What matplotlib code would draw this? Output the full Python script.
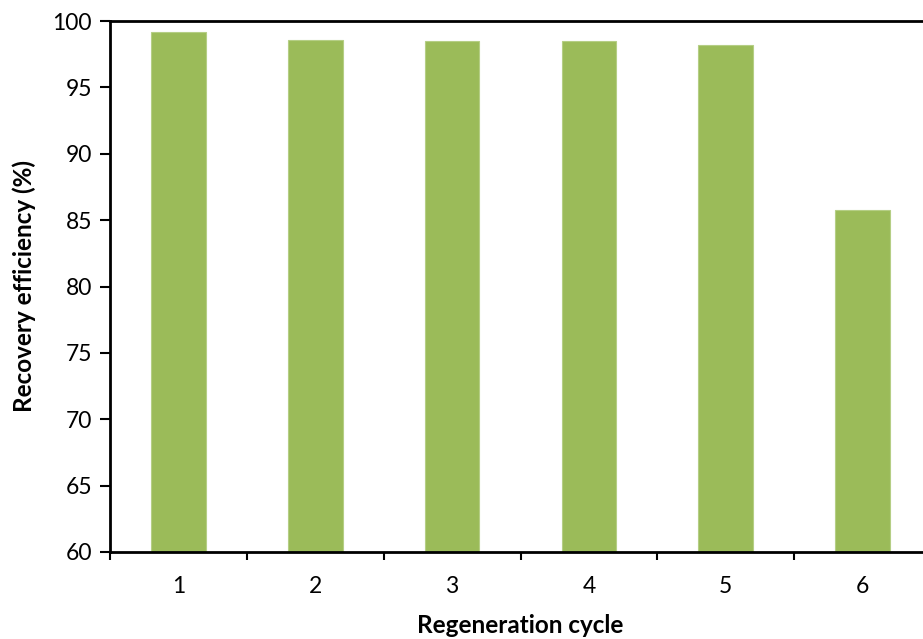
import numpy as np
import matplotlib.pyplot as plt
from matplotlib import rcParams

rcParams['font.family'] = ['Lato', 'DejaVu Sans']
rcParams['font.size'] = 16.5

cycles = ["1", "2", "3", "4", "5", "6"]
efficiency = [99.2, 98.6, 98.5, 98.5, 98.2, 85.8]

fig = plt.figure(figsize=(9.23, 6.39), dpi=100)
ax = fig.add_axes([110/923, 1 - 552/639, 821/923, 531/639])

x = np.arange(1, len(cycles) + 1)
ax.bar(x, efficiency, width=0.4, color="#9BBB59", edgecolor="#B5CE85", linewidth=0.8)

ax.set_xlim(0.5, 6.5)
ax.set_ylim(60, 100)
ax.set_yticks(np.arange(60, 101, 5))
ax.set_xticks(x)
ax.set_xticklabels(cycles)
ax.set_xticks(np.arange(0.5, 6.6, 1), minor=True)
ax.tick_params(axis='x', which='major', length=0, pad=17)
ax.tick_params(axis='x', which='minor', length=6, width=1.5, direction='out')
ax.tick_params(axis='y', length=7, width=1.5, direction='out', pad=6)

for s in ['left', 'bottom']:
    ax.spines[s].set_linewidth(2)
ax.spines['top'].set_linewidth(2)
ax.spines['right'].set_visible(False)

ax.set_xlabel("Regeneration cycle", fontweight='bold', fontsize=17.5, labelpad=12.5)
ax.set_ylabel("Recovery efficiency (%)", fontweight='bold', fontsize=17.5, labelpad=12)

fig.savefig("out.png", dpi=100)
